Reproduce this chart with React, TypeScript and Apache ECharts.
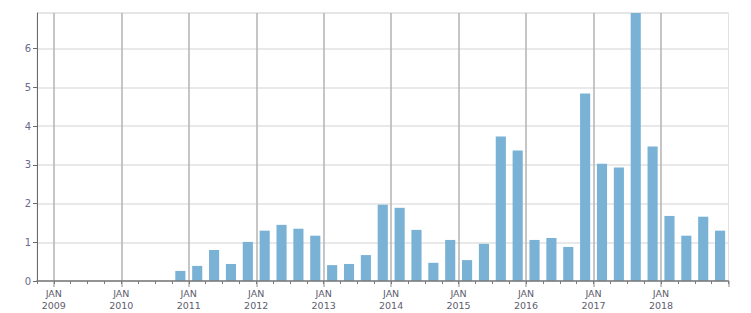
import React, { useEffect, useRef } from "react";
import * as echarts from "echarts";

const quarters: string[] = [
  "2008-Q4",
  "2009-Q1", "2009-Q2", "2009-Q3", "2009-Q4",
  "2010-Q1", "2010-Q2", "2010-Q3", "2010-Q4",
  "2011-Q1", "2011-Q2", "2011-Q3", "2011-Q4",
  "2012-Q1", "2012-Q2", "2012-Q3", "2012-Q4",
  "2013-Q1", "2013-Q2", "2013-Q3", "2013-Q4",
  "2014-Q1", "2014-Q2", "2014-Q3", "2014-Q4",
  "2015-Q1", "2015-Q2", "2015-Q3", "2015-Q4",
  "2016-Q1", "2016-Q2", "2016-Q3", "2016-Q4",
  "2017-Q1", "2017-Q2", "2017-Q3", "2017-Q4",
  "2018-Q1", "2018-Q2", "2018-Q3", "2018-Q4",
];

const values: number[] = [
  0,
  0, 0, 0, 0,
  0, 0, 0, 0.26,
  0.39, 0.8, 0.44, 1.01,
  1.3, 1.45, 1.35, 1.17,
  0.41, 0.44, 0.67, 1.97,
  1.89, 1.32, 0.47, 1.06,
  0.54, 0.96, 3.73, 3.37,
  1.06, 1.11, 0.88, 4.84,
  3.03, 2.93, 6.92, 3.47,
  1.68, 1.17, 1.66, 1.3,
];

const monthLabel = "JAN";

const isJanuary = (i: number) => quarters[i] !== undefined && quarters[i].endsWith("Q1");

export default function App() {
  const ref = useRef<HTMLDivElement>(null);
  useEffect(() => {
    if (!ref.current) return;
    const chart = echarts.init(ref.current, null, { renderer: "svg" });
    const font = "DejaVu Sans";
    chart.setOption({
      animation: false,
      grid: {
        left: 37,
        top: 13,
        right: 22.5,
        bottom: 32,
        show: true,
        borderColor: "#e2e2e2",
        borderWidth: 1,
        containLabel: false,
      },
      xAxis: [
        {
          type: "category",
          data: quarters,
          position: "bottom",
          boundaryGap: true,
          axisLine: { show: true, lineStyle: { color: "#7a7a7a", width: 1.5 } },
          axisTick: {
            show: true,
            interval: 0,
            length: 3,
            lineStyle: { color: "#7a7a7a", width: 1 },
          },
          axisLabel: {
            show: true,
            interval: (i: number) => isJanuary(i),
            margin: 7,
            formatter: (v: string) => `{a|${monthLabel}}\n{a|${v.slice(0, 4)}}`,
            rich: {
              a: {
                fontFamily: font,
                fontSize: 9.5,
                color: "#5e5e6e",
                lineHeight: 11.5,
                padding: [0, 17, 0, 0],
              },
            },
          },
          splitLine: { show: false },
          z: 3,
        },
        {
          type: "category",
          data: quarters,
          position: "bottom",
          boundaryGap: true,
          axisLine: { show: false },
          axisLabel: { show: false },
          axisTick: {
            show: true,
            interval: (i: number) => isJanuary(i),
            length: 6,
            lineStyle: { color: "#b3b3b3", width: 1.5 },
          },
          splitLine: {
            show: true,
            showMaxLine: false,
            interval: (i: number) => isJanuary(i),
            lineStyle: { color: "#b3b3b3", width: 1.5 },
          },
        },
      ],
      yAxis: {
        type: "value",
        min: 0,
        max: "dataMax",
        interval: 1,
        axisLine: { show: true, lineStyle: { color: "#6a6a6a", width: 1 } },
        axisTick: { show: true, length: 4, lineStyle: { color: "#6a6a6a" } },
        axisLabel: {
          show: true,
          margin: 6,
          showMaxLabel: false,
          fontFamily: font,
          fontSize: 10,
          color: "#6a6a8e",
        },
        splitLine: { show: true, lineStyle: { color: "#e2e2e2", width: 1.5 } },
      },
      series: [
        {
          type: "bar",
          xAxisIndex: 0,
          data: values,
          barWidth: "60%",
          itemStyle: { color: "#79b2d4" },
          z: 2,
        },
      ],
    });
    return () => chart.dispose();
  }, []);
  return <div ref={ref} style={{ width: 751, height: 313, marginLeft: -8, marginTop: -8 }} />;
}
